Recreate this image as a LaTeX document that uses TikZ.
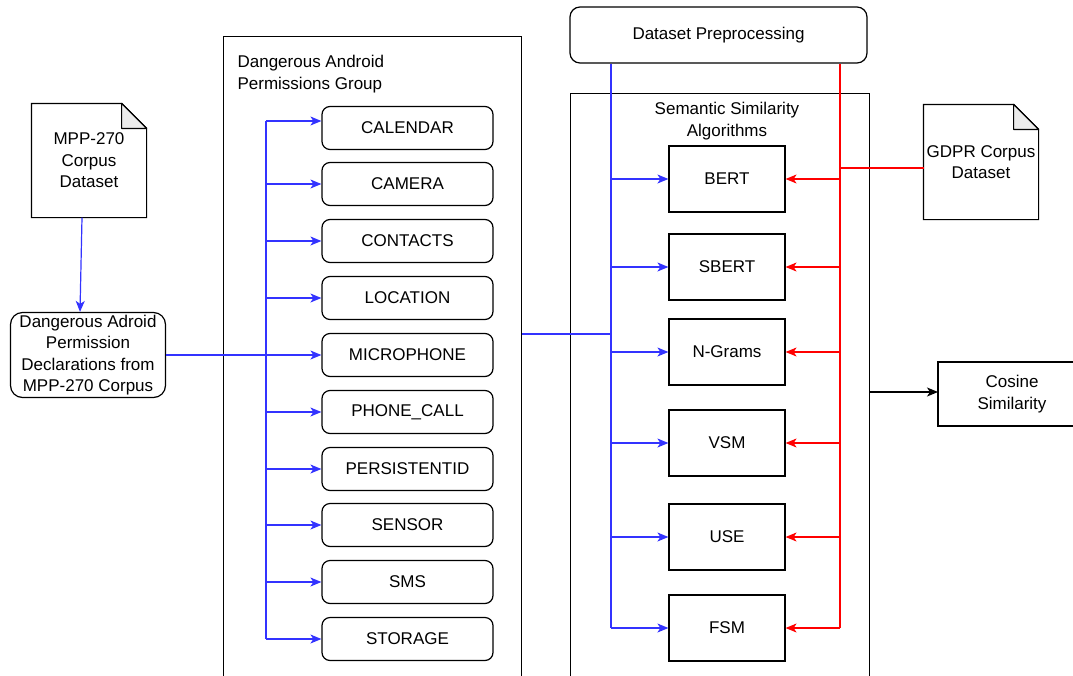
\documentclass[tikz,border=0pt]{standalone}
\usepackage{fontspec}
\setmainfont{Liberation Sans}
\usetikzlibrary{arrows.meta}
\definecolor{bl}{HTML}{3333FF}
\definecolor{rd}{HTML}{FF0000}
\definecolor{fold}{HTML}{EBEBEB}
\tikzset{
  base/.style={draw=black, line width=1.2pt, inner sep=0pt, align=center, font=\fontsize{17}{21.5}\selectfont},
  perm/.style={base, rounded corners=8pt, minimum width=171pt, minimum height=43pt},
  algo/.style={base, minimum width=116pt, minimum height=66pt},
  docnode/.style={base, draw=none},
  tip/.style={-{Stealth[length=11pt,width=9pt,inset=3pt]}},
  bline/.style={draw=bl, line width=1.2pt},
  rline/.style={draw=rd, line width=1.2pt},
  kline/.style={draw=black, line width=1.2pt},
}
\begin{document}
\begin{tikzpicture}[x=1pt,y=-1pt]
\useasboundingbox (0,0) rectangle (1073,675);
\clip (0,0) rectangle (1073,675);

% containers
\node[base, anchor=north west, minimum width=298pt, minimum height=700pt] (grp) at (223,36) {};
\node[base, draw=none, anchor=north west, align=left] (grpt) at (237,55) {Dangerous Android\\Permissions Group};
\node[base, anchor=north west, minimum width=299pt, minimum height=700pt] (sem) at (570,93) {};
\node[base, draw=none] (semt) at (727,121) {Semantic Similarity\\Algorithms};
\node[base, rounded corners=10pt, minimum width=297pt, minimum height=56pt] (dp) at (718.5,35) {Dataset Preprocessing};

% documents
\node[docnode, minimum width=114pt, minimum height=113pt] (mpp) at (89,160.5) {};
\draw[kline, fill=white] (mpp.north west) -- ([xshift=-25pt]mpp.north east) -- ([yshift=-25pt]mpp.north east) -- (mpp.south east) -- (mpp.south west) -- cycle;
\draw[kline, fill=fold, line join=round] ([xshift=-25pt]mpp.north east) -- ([xshift=-25pt,yshift=-25pt]mpp.north east) -- ([yshift=-25pt]mpp.north east) -- cycle;
\node[docnode] (mppt) at (mpp.center) {MPP-270\\Corpus\\Dataset};

\node[docnode, minimum width=114pt, minimum height=114pt] (gdpr) at (981,162) {};
\draw[kline, fill=white] (gdpr.north west) -- ([xshift=-25pt]gdpr.north east) -- ([yshift=-25pt]gdpr.north east) -- (gdpr.south east) -- (gdpr.south west) -- cycle;
\draw[kline, fill=fold, line join=round] ([xshift=-25pt]gdpr.north east) -- ([xshift=-25pt,yshift=-25pt]gdpr.north east) -- ([yshift=-25pt]gdpr.north east) -- cycle;
\node[docnode] (gdprt) at (gdpr.center) {GDPR Corpus\\Dataset};

\node[base, rounded corners=12pt, minimum width=155pt, minimum height=85pt] (dar) at (88,355) {Dangerous Adroid\\Permission\\Declarations from\\MPP-270 Corpus};

% permissions
\node[perm] (p1) at (407.5,128) {CALENDAR};
\node[perm] (p2) at (407.5,184) {CAMERA};
\node[perm] (p3) at (407.5,241) {CONTACTS};
\node[perm] (p4) at (407.5,298) {LOCATION};
\node[perm] (p5) at (407.5,355) {MICROPHONE};
\node[perm] (p6) at (407.5,412) {PHONE\_CALL};
\node[perm] (p7) at (407.5,469) {PERSISTENTID};
\node[perm] (p8) at (407.5,525) {SENSOR};
\node[perm] (p9) at (407.5,582) {SMS};
\node[perm] (p10) at (407.5,639) {STORAGE};

% algorithms
\node[algo] (a1) at (727,179) {BERT};
\node[algo] (a2) at (727,267) {SBERT};
\node[algo] (a3) at (727,352) {N-Grams};
\node[algo] (a4) at (727,443) {VSM};
\node[algo] (a5) at (727,537) {USE};
\node[algo] (a6) at (727,628) {FSM};

\node[base, minimum width=148pt, minimum height=64pt] (cos) at (1012,394) {Cosine\\Similarity};

% buses
\coordinate (pbus) at (266,0);
\coordinate (bbus) at (611,0);
\coordinate (rbus) at (840,0);
\coordinate (bj) at (611,334);
\coordinate (cin) at (938,392);
\coordinate (gin) at (924,168);
\coordinate (c1) at (266,121);

% permission connectors
\draw[bline] (c1) -- (pbus |- p10.west);
\draw[bline, tip] (c1) -- (c1 -| p1.west);
\foreach \p in {p2,p3,p4,p5,p6,p7,p8,p9,p10} {
  \draw[bline, tip] (pbus |- \p.west) -- (\p.west);
}
\draw[bline] (dar.east) -- (dar.east -| pbus);
\draw[bline, tip] ([xshift=-7pt]mpp.south) -- ([xshift=-8pt]dar.north);
\draw[bline] (grp.east |- bj) -- (bj);

% algorithm connectors
\draw[bline] (dp.south -| bbus) -- (bbus |- a6.west);
\draw[rline] (dp.south -| rbus) -- (rbus |- a6.east);
\foreach \a in {a1,a2,a3,a4,a5,a6} {
  \draw[bline, tip] (bbus |- \a.west) -- (\a.west);
  \draw[rline, tip] (rbus |- \a.east) -- (\a.east);
}
\draw[rline] (gin) -- (gin -| rbus);
\draw[kline, tip] (sem.east |- cin) -- (cin);
\end{tikzpicture}
\end{document}
